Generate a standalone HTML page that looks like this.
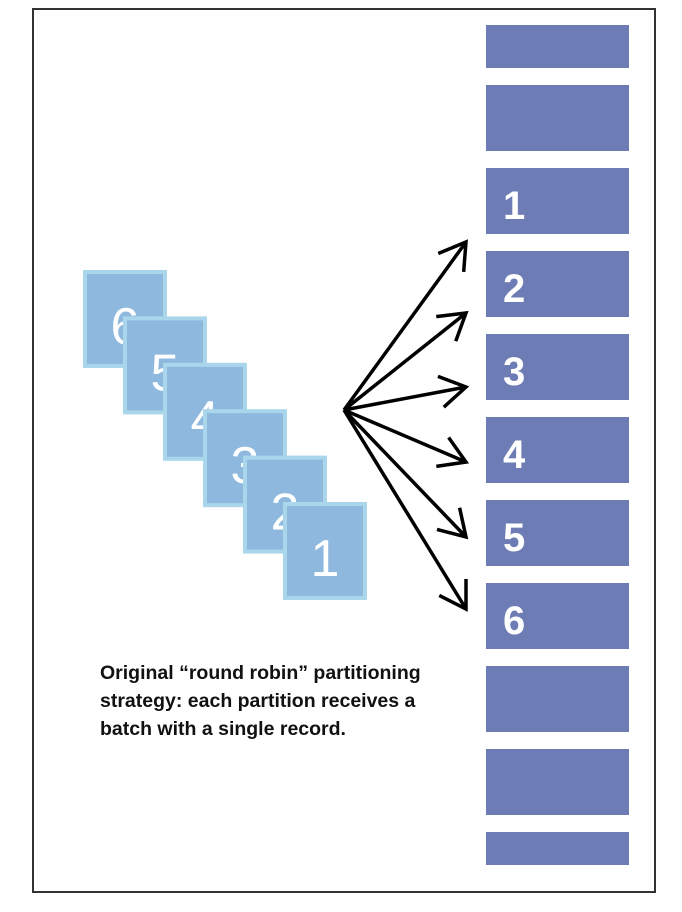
<!DOCTYPE html>
<html><head><meta charset="utf-8"><style>
html,body{margin:0;padding:0;background:#fff;}
svg{display:block;font-family:"Liberation Sans",sans-serif;}
</style></head><body>
<svg width="682" height="912" viewBox="0 0 682 912">
<rect x="33" y="9" width="622" height="883" fill="#fff" stroke="#333" stroke-width="2"/>
<g id="parts"></g>
<g id="cards"></g>
<g id="arrows" stroke="#000" stroke-width="3.5" fill="none" stroke-linecap="butt"></g>
<text x="100" y="679" font-size="19.5" font-weight="bold" fill="#111">Original “round robin” partitioning</text>
<text x="100" y="707" font-size="19.5" font-weight="bold" fill="#111">strategy: each partition receives a</text>
<text x="100" y="735" font-size="19.5" font-weight="bold" fill="#111">batch with a single record.</text>
</svg>
<script>
const partTops = [25, 85, 168, 251, 334, 417, 500, 583, 666, 749, 832];
const partBottoms = [68, 151, 234, 317, 400, 483, 566, 649, 732, 815, 865];
const partLabels = ["", "", "1", "2", "3", "4", "5", "6", "", "", ""];
const cardLabels = ["6", "5", "4", "3", "2", "1"];
const arrowTipY = [242, 313, 387, 462, 537, 609];
const NS = "http://www.w3.org/2000/svg";
const parts = document.getElementById('parts');
partTops.forEach((t, i) => {
  const r = document.createElementNS(NS, 'rect');
  r.setAttribute('x', 486); r.setAttribute('y', t);
  r.setAttribute('width', 143); r.setAttribute('height', partBottoms[i] - t);
  r.setAttribute('fill', '#6d7cb4');
  
  
  parts.appendChild(r);
  if (partLabels[i]) {
    const tx = document.createElementNS(NS, 'text');
    tx.setAttribute('x', 503); tx.setAttribute('y', partBottoms[i] - 15);
    tx.setAttribute('font-size', 40); tx.setAttribute('font-weight', 'bold'); tx.setAttribute('fill', '#fff');
    tx.textContent = partLabels[i];
    
    
    parts.appendChild(tx);
  }
});
const cards = document.getElementById('cards');
cardLabels.forEach((l, i) => {
  const x = 85 + i * 40, y = 272 + i * 46.4;
  const r = document.createElementNS(NS, 'rect');
  r.setAttribute('x', x); r.setAttribute('y', y);
  r.setAttribute('width', 80); r.setAttribute('height', 94);
  r.setAttribute('fill', '#8fb8de'); r.setAttribute('stroke', '#a9d6ea'); r.setAttribute('stroke-width', 4);
  
  
  cards.appendChild(r);
  const tx = document.createElementNS(NS, 'text');
  tx.setAttribute('x', x + 40); tx.setAttribute('y', y + 72);
  tx.setAttribute('text-anchor', 'middle');
  tx.setAttribute('font-size', 52); tx.setAttribute('fill', '#fff');
  tx.textContent = l;
  
  
  cards.appendChild(tx);
});
const arrows = document.getElementById('arrows');
const ox = 344, oy = 410, tx0 = 466;
arrowTipY.forEach(ty => {
  const p = document.createElementNS(NS, 'path');
  const dx = tx0 - ox, dy = ty - oy, len = Math.hypot(dx, dy);
  const ux = dx / len, uy = dy / len, h = 30, a = 0.55;
  const c = Math.cos(a), s = Math.sin(a);
  const b1x = tx0 - h * (ux * c - uy * s), b1y = ty - h * (uy * c + ux * s);
  const b2x = tx0 - h * (ux * c + uy * s), b2y = ty - h * (uy * c - ux * s);
  p.setAttribute('d', `M${ox},${oy} L${tx0},${ty} M${b1x},${b1y} L${tx0},${ty} L${b2x},${b2y}`);
  
  
  arrows.appendChild(p);
});
</script>
</body></html>
